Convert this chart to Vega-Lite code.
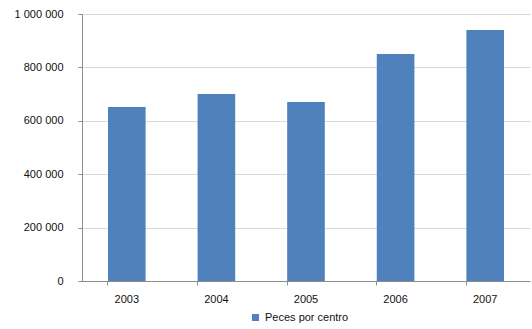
{
  "$schema": "https://vega.github.io/schema/vega-lite/v6.json",
  "width": 448,
  "height": 267,
  "autosize": {"type": "none"},
  "padding": {"left": 82, "top": 14, "right": 2, "bottom": 48},
  "background": "white",
  "config": {
    "locale": {"number": {"decimal": ",", "thousands": " ", "grouping": [3], "currency": ["", " €"]}},
    "font": "Liberation Sans",
    "view": {"stroke": null},
    "axis": {"labelFont": "Liberation Sans", "labelFontSize": 11, "labelColor": "#111111", "domainColor": "#8c8c8c", "tickColor": "#8c8c8c", "title": null}
  },
  "data": {
    "values": [
      {"year": "2003", "peces": 652000},
      {"year": "2004", "peces": 700000},
      {"year": "2005", "peces": 670000},
      {"year": "2006", "peces": 850000},
      {"year": "2007", "peces": 940000}
    ]
  },
  "mark": {"type": "bar", "color": "#4f81bd"},
  "encoding": {
    "x": {
      "field": "year",
      "type": "ordinal",
      "scale": {"paddingInner": 0.58, "paddingOuter": 0.29},
      "axis": {"labelAngle": 0, "bandPosition": 0, "tickSize": 4, "labelPadding": 8, "grid": false}
    },
    "y": {
      "field": "peces",
      "type": "quantitative",
      "scale": {"domain": [0, 1000000], "nice": false},
      "axis": {"values": [0, 200000, 400000, 600000, 800000, 1000000], "format": ",d", "tickSize": 4, "labelPadding": 15, "grid": true, "gridColor": "#d9d9d9"}
    },
    "color": {
      "datum": "Peces por centro",
      "type": "nominal",
      "scale": {"range": ["#4f81bd"]},
      "legend": {"orient": "none", "legendX": 168, "legendY": 298, "title": null, "symbolType": "square", "symbolSize": 49, "labelFontSize": 11, "labelColor": "#111111", "labelFont": "Liberation Sans", "symbolStrokeWidth": 0}
    }
  }
}
